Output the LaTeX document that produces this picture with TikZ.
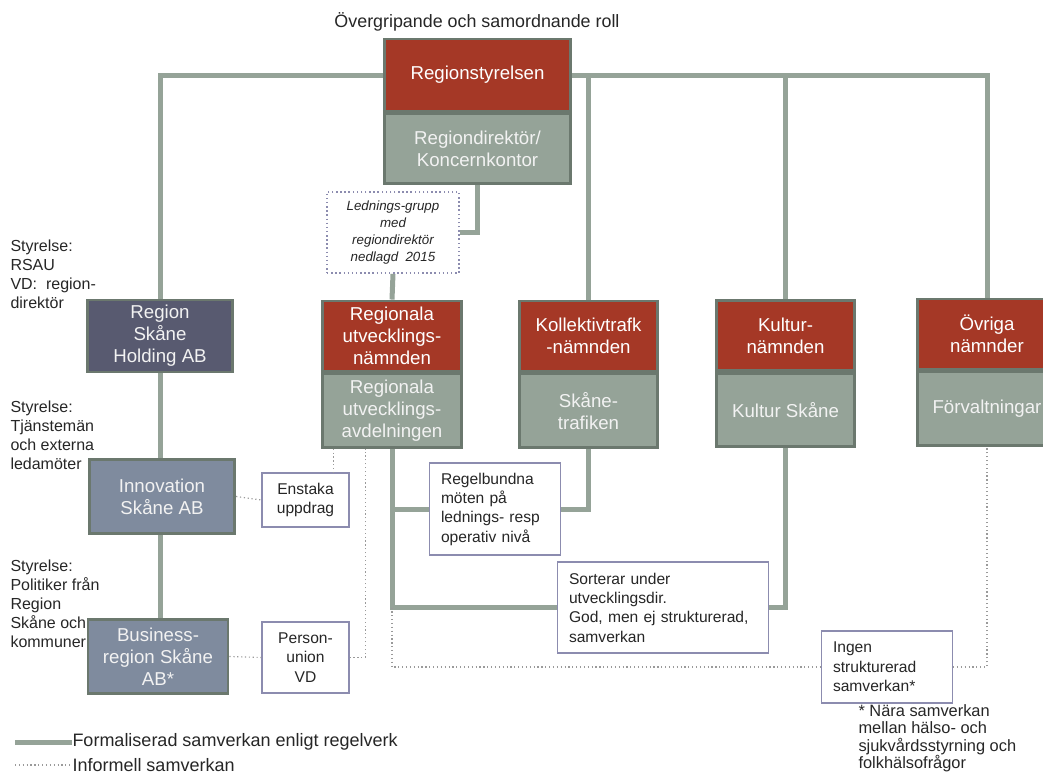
\documentclass[tikz,border=0pt]{standalone}
\usepackage{fontspec}
\setmainfont{Liberation Sans}
\usetikzlibrary{positioning}

\definecolor{rsred}{HTML}{A53826}
\definecolor{sage}{HTML}{95A398}
\definecolor{boxrim}{HTML}{6B786E}
\definecolor{holdslate}{HTML}{585A70}
\definecolor{bolagblue}{HTML}{7F8B9E}
\definecolor{notelilac}{HTML}{8C8CAF}
\definecolor{dotgray}{HTML}{9A9A9A}
\definecolor{inkgray}{HTML}{262626}
\definecolor{offwhite}{HTML}{F2F2F2}

\tikzset{every picture/.style={line width=0.75pt}}
\tikzset{
  orgbox/.style={draw=boxrim, line width=2.2pt, minimum width=104pt, inner sep=0pt, align=center, font=\fontsize{14}{16.5}\selectfont},
  board/.style={orgbox, fill=rsred, text=white, minimum height=52.5pt},
  office/.style={orgbox, fill=sage, text=offwhite, minimum height=55pt},
  bolag/.style={orgbox, text=offwhite, minimum height=55pt},
  notebox/.style={draw=notelilac, line width=1.1pt, fill=white, inner sep=0pt, text=inkgray, font=\fontsize{11.7}{14.5}\selectfont},
  formal/.style={draw=sage, line width=3.75pt},
  informal/.style={draw=dotgray, line width=0.9pt, dotted},
  sidenote/.style={anchor=north west, inner sep=0pt, align=left, text=inkgray, font=\fontsize{12}{14.3}\selectfont},
  legendtext/.style={anchor=west, inner sep=0pt, text=inkgray, font=\fontsize{13.5}{16}\selectfont},
}

\begin{document}
\begin{tikzpicture}[x=0.75pt,y=0.75pt,yscale=-1,xscale=1]
\useasboundingbox (0,0) rectangle (1043,778);

% Text Node
\node[inner sep=0pt, text=inkgray, font=\fontsize{13.4}{16}\selectfont] (title) at (477,22) {Övergripande och samordnande roll};

%Region top
\node[board, minimum width=140pt, minimum height=54pt] (rs) at (477.5,75) {Regionstyrelsen};
\node[office, minimum width=140pt, minimum height=52.5pt, below=0pt of rs] (rd) {Regiondirektör/\\Koncernkontor};
\node[notebox, draw=notelilac, dotted, align=center, minimum width=99pt, minimum height=61pt, font=\fontsize{10}{12.8}\selectfont\itshape] (lg) at (393,232.5) {Lednings-grupp\\med\\regiondirektör\\nedlagd\ \ 2015};

%Bolag
\node[bolag, fill=holdslate, minimum width=109pt, minimum height=54pt] (holding) at (160,336) {Region\\Skåne\\Holding AB};
\node[bolag, fill=bolagblue, minimum width=109pt] (innov) at (162,496.5) {Innovation\\Skåne AB};
\node[bolag, fill=bolagblue, minimum width=105pt] (business) at (158,656.5) {Business-\\region Skåne\\AB*};

%Namnder
\node[board] (run) at (392,336) {Regionala\\utvecklings-\\nämnden};
\node[office, below=0pt of run] (rua) {Regionala\\utvecklings-\\avdelningen};
\node[board] (koll) at (588.5,336) {Kollektivtrafk\\-nämnden};
\node[office, below=0pt of koll] (skt) {Skåne-\\trafiken};
\node[board] (kultur) at (785.5,335.5) {Kultur-\\nämnden};
\node[office, below=0pt of kultur] (ks) {Kultur Skåne};
\node[board] (ovriga) at (987,334) {Övriga\\nämnder};
\node[office, below=0pt of ovriga] (forv) {Förvaltningar};

%Samverkan boxes
\node[notebox, align=center, minimum width=65pt, minimum height=40.5pt] (enstaka) at (305.5,500) {Enstaka\\uppdrag};
\node[notebox, align=center, minimum width=65pt, minimum height=53pt] (person) at (305.5,657.5) {Person-\\union\\VD};
\node[notebox, align=left, text width=81pt, minimum height=69pt, inner xsep=8.5pt] (regel) at (495,509) {Regelbundna\\möten på\\lednings- resp\\operativ nivå};
\node[notebox, align=left, text width=141pt, minimum height=68pt, inner xsep=8.5pt] (sort) at (663,607.5) {Sorterar under\\utvecklingsdir.\\God, men ej strukturerad,\\samverkan};
\node[notebox, align=left, text width=81pt, minimum height=54pt, inner xsep=8.5pt] (ingen) at (887,667) {Ingen\\strukturerad\\samverkan*};

% Text Node
\node[sidenote] (styr1) at (10,239) {Styrelse:\\RSAU\\VD:\ \ region-\\direktör};
% Text Node
\node[sidenote] (styr2) at (10,400) {Styrelse:\\Tjänstemän\\och externa\\ledamöter};
% Text Node
\node[sidenote] (styr3) at (10,559) {Styrelse:\\Politiker från\\Region\\Skåne och\\kommuner};
% Text Node
\node[sidenote, font=\fontsize{12.3}{13.1}\selectfont] (fotnot) at (858,704) {* Nära samverkan\\mellan hälso- och\\sjukvårdsstyrning och\\folkhälsofrågor};

%Formal lines
\draw[formal] (rs.west) -| (holding.north);
\draw[formal] (rs.east) -| (ovriga.north);
\draw[formal] (koll.north) -- (koll.north |- rs.east);
\draw[formal] (kultur.north) -- (kultur.north |- rs.east);
\draw[formal] (holding.south) -- (holding.south |- innov.north);
\draw[formal] (holding.south |- innov.south) -- (holding.south |- business.north);
\draw[formal] (rd.south) |- (lg.east);
\draw[formal] (lg.south) -- (run.north);
\draw[formal] (rua.south) |- (sort.west);
\draw[formal] (rua.south |- regel.west) -- (regel.west);
\draw[formal] (skt.south) |- (regel.east);
\draw[formal] (ks.south) |- (sort.east);

%Informal lines
\draw[informal] (innov.east) -- (enstaka.west);
\draw[informal] ([xshift=9pt]rua.south west) -- ([xshift=9pt]rua.south west |- enstaka.north);
\draw[informal] (business.east) -- (person.west);
\draw[informal] (person.east) -| ([xshift=33pt]rua.south west);
\draw[informal] (rua.south |- sort.west) |- (ingen.west);
\draw[informal] (ingen.east) -| (forv.south);

%Legend
\coordinate (legA) at (15,742);
\coordinate (legB) at (15,765);
\node[legendtext] (legformal) at (72,742) {Formaliserad samverkan enligt regelverk};
\node[legendtext] (leginformal) at (72,765) {Informell samverkan};
\draw[formal] (legA) -- (legformal.west);
\draw[informal] (legB) -- (leginformal.west);

\end{tikzpicture}
\end{document}
